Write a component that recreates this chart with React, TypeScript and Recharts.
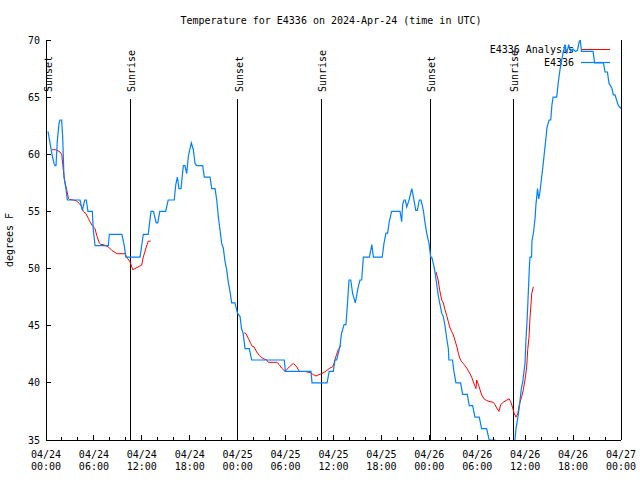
import { LineChart, Line, XAxis, YAxis, ReferenceLine, ReferenceDot } from 'recharts'

const FONT = '"DejaVu Sans Mono", monospace'

// observed temperature (hours since 04/24 00:00 UTC)
const stationHours = [
  0.25, 0.5, 0.75, 1.0, 1.13, 1.25, 1.42, 1.63, 1.75, 1.96, 2.09, 2.25, 2.5, 2.67, 4.26, 4.55, 4.85, 5.05, 5.25, 5.8,
  5.92, 6.15, 7.8, 7.93, 9.5, 9.8, 10.0, 11.77, 11.98, 12.18, 12.8, 12.97, 13.15, 13.45, 13.8, 14.0, 14.25, 14.98, 15.3, 16.06,
  16.24, 16.45, 16.65, 16.9, 17.2, 17.4, 17.62, 17.82, 18.03, 18.2, 18.45, 18.66, 18.87, 19.62, 19.82, 20.54, 20.75, 21.17, 21.38, 21.58,
  21.79, 22.0, 22.2, 22.4, 22.62, 22.83, 23.04, 23.25, 23.66, 23.98, 24.3, 24.47, 24.69, 24.92, 25.46, 25.76, 29.84, 29.97, 33.18, 33.31,
  35.2, 35.46, 35.97, 36.19, 36.4, 36.81, 37.0, 37.32, 37.56, 37.73, 37.94, 38.16, 38.4, 38.73, 39.1, 39.32, 39.53, 39.74, 40.5, 40.8,
  41.0, 42.1, 42.32, 42.57, 42.78, 42.98, 43.28, 44.33, 44.54, 44.66, 44.83, 44.99, 45.17, 45.46, 45.8, 46.0, 46.3, 46.5, 46.75, 46.96,
  47.25, 47.46, 47.67, 47.96, 48.17, 48.3, 48.55, 48.75, 48.95, 49.15, 49.35, 49.55, 49.75, 49.96, 50.17, 50.38, 50.45, 50.9, 51.08, 51.33,
  51.92, 52.17, 52.75, 53.0, 53.42, 53.71, 54.25, 54.55, 55.17, 55.5, 56.2, 56.4, 57.2, 58.2, 58.72, 58.85, 59.07, 59.27, 59.5, 59.7,
  59.98, 60.1, 60.27, 60.4, 60.52, 60.6, 60.8, 60.85, 61.05, 61.25, 61.35, 61.55, 61.7, 61.85, 62.05, 62.2, 62.4, 62.55, 62.75, 63.0,
  63.2, 63.35, 63.5, 63.95, 64.15, 64.36, 64.57, 64.78, 65.0, 65.2, 65.45, 65.7, 66.0, 66.3, 66.55, 66.75, 66.9, 67.05, 68.5, 68.7,
  69.8, 70.0, 70.3, 70.5, 70.85, 71.05, 71.25, 71.65, 72.0,
]
const stationTemps = [
  62, 61, 60, 59.2, 59, 59, 61.2, 62.7, 63, 63, 61.5, 58, 57, 56, 56, 55.1, 56, 56, 55, 55,
  53.4, 52, 52, 53, 53, 52, 51, 51, 52, 53, 53, 54, 55, 55, 54, 54, 55, 55, 56, 56,
  57.3, 58, 57, 57, 59, 59, 58.3, 59.8, 60.5, 61, 60.4, 59.2, 59, 59, 58, 58, 57, 57, 56, 54.5,
  53.4, 52.2, 51.8, 50.7, 49.9, 48.8, 48, 47, 47, 46.1, 45.8, 44.8, 44.3, 43, 43, 42, 42, 41, 41, 40,
  40, 41, 41, 42, 42, 43.2, 44.3, 45.1, 45.1, 46.7, 49, 49, 47.8, 47, 48.4, 49, 49, 51, 51, 52.1,
  51, 51, 52.2, 53.1, 53.1, 54.1, 55, 55, 54.1, 55.6, 56, 56, 55.4, 56, 57, 56.3, 55.1, 55.1, 56, 56,
  55.1, 54, 53.1, 52.2, 51, 51, 50.3, 49.5, 48.5, 47.5, 46.8, 46.1, 45.8, 45, 43.9, 43, 42, 42, 41, 40,
  40, 39, 39, 38, 38, 37, 37, 36, 36, 35, 35, 34, 33, 33.5, 35, 36, 36.9, 37.9, 39.4, 40.1,
  41.7, 43.75, 45.9, 48, 50, 51, 51, 52.4, 53.2, 54.5, 55.6, 57, 56.1, 56.7, 57.9, 58.8, 60.1, 61.1, 62.4, 63,
  63, 64.3, 65, 65, 66.3, 67.4, 68.2, 69, 69.6, 68.8, 69.6, 69, 69.2, 69, 69.1, 69.8, 70, 69, 69, 68,
  68, 67.2, 67.2, 66.2, 65.8, 65.2, 65.2, 64.3, 64,
]

// analysis temperature, null marks a gap between runs
const analysisHours = [
  0.75, 1.25, 1.75, 1.97, 2.1, 2.17, 2.38, 2.6, 2.8, 2.92, 3.42, 3.84, 4.17, 4.47, 4.67, 5.0, 5.3, 5.5, 5.85, 6.14,
  6.35, 6.64, 6.85, 7.17, 7.8, 8.23, 8.64, 8.93, 9.9, 10.1, 10.52, 10.86, 11.14, 11.68, 11.98, 12.18, 12.52, 12.8, 13.1, 18.0,
  24.8, 25.04, 25.33, 25.63, 25.83, 26.05, 26.38, 26.7, 27.0, 27.3, 27.64, 27.84, 28.9, 29.2, 29.5, 29.93, 30.47, 30.97, 31.4, 31.72,
  32.43, 33.06, 33.4, 33.8, 34.1, 34.5, 34.94, 35.56, 35.9, 36.06, 36.3, 36.6, 36.94, 42.0,
  48.84, 49.1, 49.3, 49.55, 49.75, 49.96, 50.17, 50.38, 50.59, 50.8, 51.0, 51.2, 51.43, 51.63, 51.84, 52.05, 52.25, 52.46, 52.68, 52.88,
  53.09, 53.3, 53.5, 53.72, 53.84, 53.93, 54.06, 54.22, 54.43, 54.63, 54.84, 55.18, 55.6, 56.0, 56.22, 56.43, 56.72, 56.94, 57.26, 57.6,
  57.98, 58.19, 58.44, 58.64, 58.85, 59.07, 59.27, 59.57, 59.77, 59.98, 60.19, 60.32, 60.48, 60.6, 60.82, 61.02,
]
const analysisTemps = [
  60.4, 60.4, 60.2, 60, 59.1, 58.6, 57.5, 56.9, 56.15, 56.06, 56, 55.9, 55.7, 55.4, 55, 54.8, 54.4, 54.1, 53.7, 53.5,
  52.9, 52.3, 52.1, 52.1, 51.9, 51.6, 51.4, 51.3, 51.3, 51.0, 50.6, 49.9, 50, 50.2, 50.3, 51, 51.8, 52.4, 52.4, null,
  44.4, 44.3, 43.9, 43.45, 43.2, 43.15, 42.7, 42.4, 42.2, 42.1, 42, 41.8, 41.8, 41.6, 41.3, 41.0, 41.4, 41.7, 41.4, 41,
  41.0, 40.9, 40.75, 40.6, 40.7, 40.8, 40.97, 41.3, 41.4, 41.7, 42.3, 42.9, 43.3, null,
  49.7, 49.0, 48.1, 47.25, 47, 46.4, 45.9, 45.35, 44.8, 44.5, 44.2, 43.75, 43.2, 42.6, 42.1, 41.85, 41.7, 41.5, 41.3, 41.06,
  40.8, 40.5, 40.1, 39.7, 39.5, 40.25, 40.0, 39.7, 39.2, 38.85, 38.6, 38.45, 38.35, 38.3, 38.1, 37.8, 37.5, 38.1, 38.3, 38.45,
  38.6, 38.35, 37.8, 37.3, 37.0, 37.3, 38.1, 38.8, 39.4, 40.25, 41.4, 42.9, 44.0, 45.6, 47.8, 48.4,
]

const sunLabels = ['Sunset', 'Sunrise', 'Sunset', 'Sunrise', 'Sunset', 'Sunrise']
const sunHours = [0.1, 10.52, 24.04, 34.45, 48.1, 58.5]

const xTickHours = [0, 6, 12, 18, 24, 30, 36, 42, 48, 54, 60, 66, 72]
const xTickDates = ['04/24', '04/24', '04/24', '04/24', '04/25', '04/25', '04/25', '04/25', '04/26', '04/26', '04/26', '04/26', '04/27']
const xTickTimes = ['00:00', '06:00', '12:00', '18:00', '00:00', '06:00', '12:00', '18:00', '00:00', '06:00', '12:00', '18:00', '00:00']
const xMinorHours = [0, 2, 4, 6, 8, 10, 12, 14, 16, 18, 20, 22, 24, 26, 28, 30, 32, 34, 36, 38, 40, 42, 44, 46, 48, 50, 52, 54, 56, 58, 60, 62, 64, 66, 68, 70, 72]
const yTicks = [35, 40, 45, 50, 55, 60, 65, 70]

const stationData = stationHours.map((h, i) => ({ h, t: stationTemps[i] }))
const analysisData = analysisHours.map((h, i) => ({ h, t: analysisTemps[i] }))

const BLUE = '#0080ff'
const RED = '#ff0000'

function BottomTick({ x, y, payload }: any) {
  const i = xTickHours.indexOf(payload.value)
  const major = i >= 0
  return (
    <g>
      <line x1={x} x2={x} y1={y} y2={y - (major ? 5 : 3)} stroke="#000" shapeRendering="crispEdges" />
      {major && (
        <text x={x} y={y + 18} textAnchor="middle" fontFamily={FONT} fontSize={10} fill="#000">
          {xTickDates[i]}
        </text>
      )}
      {major && (
        <text x={x} y={y + 30} textAnchor="middle" fontFamily={FONT} fontSize={10} fill="#000">
          {xTickTimes[i]}
        </text>
      )}
    </g>
  )
}

function TopTick({ x, y, payload }: any) {
  const major = xTickHours.indexOf(payload.value) >= 0
  return <line x1={x} x2={x} y1={y} y2={y + (major ? 5 : 3)} stroke="#000" shapeRendering="crispEdges" />
}

export default function App() {
  return (
    <div style={{ position: 'absolute', left: 0, top: 0 }}>
      <LineChart width={640} height={480} margin={{ top: 40, right: 0, bottom: 0, left: 0 }}>
        <XAxis
          dataKey="h"
          type="number"
          domain={[0, 72]}
          allowDataOverflow
          ticks={xMinorHours}
          interval={0}
          height={40}
          tickSize={0}
          tickMargin={0}
          tickLine={false}
          tick={<BottomTick />}
          axisLine={{ stroke: '#000', shapeRendering: 'crispEdges' }}
        />
        <XAxis
          xAxisId="top"
          orientation="top"
          dataKey="h"
          type="number"
          domain={[0, 72]}
          allowDataOverflow
          ticks={xMinorHours}
          interval={0}
          height={0}
          tickSize={0}
          tickMargin={0}
          tickLine={false}
          tick={<TopTick />}
          axisLine={{ stroke: '#000', shapeRendering: 'crispEdges' }}
        />
        <YAxis
          type="number"
          domain={[35, 70]}
          allowDataOverflow
          ticks={yTicks}
          interval={0}
          width={46}
          tickSize={-5}
          tickMargin={11}
          tick={{ fontFamily: FONT, fontSize: 10, fill: '#000' }}
          tickLine={{ stroke: '#000', shapeRendering: 'crispEdges' }}
          axisLine={{ stroke: '#000', shapeRendering: 'crispEdges' }}
        />
        <YAxis
          yAxisId="right"
          orientation="right"
          type="number"
          domain={[35, 70]}
          allowDataOverflow
          ticks={yTicks}
          interval={0}
          width={19}
          tickSize={-5}
          tick={false}
          tickLine={{ stroke: '#000', shapeRendering: 'crispEdges' }}
          axisLine={{ stroke: '#000', shapeRendering: 'crispEdges' }}
        />

        {sunHours.map((h, i) => (
          <ReferenceLine
            key={'l' + i}
            segment={[{ x: h, y: 64.84 }, { x: h, y: 35 }]}
            stroke="#000"
            strokeWidth={1}
            shapeRendering="crispEdges"
          />
        ))}
        {sunHours.map((h, i) => (
          <ReferenceDot
            key={'d' + i}
            x={h}
            y={65.45}
            shape={(p: any) => (
              <text
                x={p.cx + 5}
                y={p.cy}
                transform={`rotate(-90 ${p.cx + 5} ${p.cy})`}
                textAnchor="start"
                fontFamily={FONT}
                fontSize={10}
                fill="#000"
              >
                {sunLabels[i]}
              </text>
            )}
          />
        ))}

        <Line
          data={analysisData}
          dataKey="t"
          type="linear"
          stroke={RED}
          strokeWidth={1}
          dot={false}
          activeDot={false}
          connectNulls={false}
          isAnimationActive={false}
        />
        <Line
          data={stationData}
          dataKey="t"
          type="linear"
          stroke={BLUE}
          strokeWidth={1.2}
          dot={false}
          activeDot={false}
          isAnimationActive={false}
        />

        <text x={331} y={24} textAnchor="middle" fontFamily={FONT} fontSize={10} fill="#000">
          Temperature for E4336 on 2024-Apr-24 (time in UTC)
        </text>
        <text x={13} y={240} transform="rotate(-90 13 240)" textAnchor="middle" fontFamily={FONT} fontSize={10} fill="#000">
          degrees F
        </text>
        <text x={574} y={53} textAnchor="end" fontFamily={FONT} fontSize={10} fill="#000">
          E4336 Analysis
        </text>
        <line x1={581} x2={610} y1={49.5} y2={49.5} stroke={RED} strokeWidth={1} />
        <text x={574} y={66} textAnchor="end" fontFamily={FONT} fontSize={10} fill="#000">
          E4336
        </text>
        <line x1={581} x2={610} y1={62.5} y2={62.5} stroke={BLUE} strokeWidth={1.2} />
      </LineChart>
    </div>
  )
}
